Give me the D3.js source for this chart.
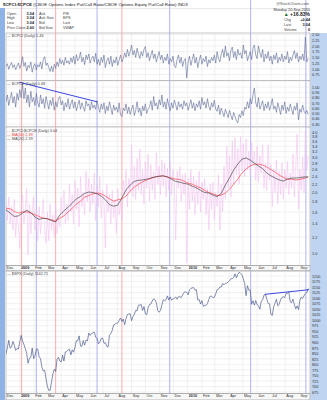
<!DOCTYPE html>
<html>
<head>
<meta charset="utf-8">
<script src="https://cdn.jsdelivr.net/npm/d3@7"></script>
<style>
body { margin: 0; background: #fff; }
svg { display: block; font-family: "Liberation Sans", Arial, sans-serif; }
</style>
</head>
<body>
<script>
// ---- data (one value every 3 calendar days from 2-Dec-2008 to 20-Sep-2010) ----
var startDate = new Date(2008, 11, 2);
var stepDays = 3;
var maStepDays = 9;

// $CPCI daily
var cpci = [
1.10,1.22,0.98,1.15,1.27,1.05,1.18,0.96,1.12,1.25,
1.02,1.20,1.53,1.10,1.28,0.90,1.15,1.05,1.30,0.85,
1.12,1.22,0.95,1.18,1.08,1.30,1.00,1.40,1.53,1.15,
1.25,1.05,0.88,1.12,0.87,1.20,1.02,1.30,1.10,1.45,
1.22,1.38,1.15,1.50,1.25,1.35,1.20,1.48,1.28,1.55,
1.20,1.62,1.35,1.45,1.73,1.30,1.50,1.18,1.60,1.40,
1.65,1.25,1.45,1.55,1.30,1.68,1.20,1.42,1.15,1.50,
1.28,1.60,1.05,1.35,1.48,1.20,1.55,1.10,1.40,1.25,
1.52,1.15,1.38,1.60,1.30,1.45,1.70,1.50,1.85,1.55,
1.75,2.04,1.60,1.80,1.50,1.90,1.65,1.45,1.75,1.55,
1.85,1.97,1.50,1.70,1.35,1.60,1.80,1.45,1.65,1.30,
1.55,1.75,1.40,1.60,1.25,1.50,1.35,1.65,1.20,1.45,
1.30,1.55,1.15,1.05,1.40,1.60,1.25,1.50,1.10,1.35,
1.45,0.60,1.30,1.55,1.15,1.40,1.65,1.25,1.50,1.05,
1.35,1.60,1.20,1.45,1.30,1.55,1.10,1.40,1.25,1.50,
1.35,1.60,1.25,1.75,1.45,1.30,1.65,1.85,1.50,2.00,
1.55,1.70,1.35,1.80,1.95,1.50,1.75,1.40,1.85,1.60,
1.70,1.45,2.04,1.65,1.80,1.35,1.55,1.75,1.40,1.90,
2.04,1.60,1.45,2.00,1.70,1.50,1.85,1.30,1.65,1.45,
1.75,1.35,1.55,1.20,1.60,1.40,1.70,1.25,1.50,1.35,
1.65,1.30,1.55,1.40,1.75,1.25,1.50,1.35,1.60,1.80,
1.45,1.70,1.30,1.55,1.40,1.65,1.35,2.39,1.30,1.46
];

// $CPCE daily
var cpce = [
0.72,0.85,0.65,0.78,0.90,0.70,0.82,0.62,0.88,0.75,
0.95,0.80,1.05,0.78,0.98,0.70,0.85,0.62,0.92,0.72,
0.80,0.65,0.88,0.70,0.62,0.85,0.68,0.78,0.60,0.82,
0.70,0.58,0.75,0.65,0.80,0.56,0.72,0.62,0.78,0.82,
0.66,0.74,0.55,0.70,0.62,0.78,0.58,0.68,0.76,0.60,
0.72,0.55,0.66,0.75,0.58,0.70,0.62,0.54,0.74,0.64,
0.68,0.56,0.72,0.60,0.66,0.58,0.74,0.62,0.52,0.68,
0.58,0.70,0.50,0.64,0.55,0.72,0.60,0.48,0.66,0.56,
0.62,0.52,0.70,0.47,0.44,0.60,0.55,0.68,0.50,0.62,
0.48,0.58,0.66,0.46,0.56,0.72,0.52,0.60,0.45,0.64,
0.55,0.68,0.50,0.58,0.62,0.74,0.56,0.82,0.64,0.70,
0.58,0.76,0.66,0.85,0.62,0.72,0.58,0.78,0.64,0.55,
0.70,0.60,0.75,0.66,0.56,0.72,0.62,0.68,0.58,0.74,
0.64,0.70,0.56,0.66,0.76,0.60,0.70,0.55,0.68,0.62,
0.74,0.58,0.80,0.66,0.72,0.60,0.78,0.64,0.56,0.70,
0.62,0.75,0.58,0.54,0.66,0.48,0.60,0.52,0.44,0.58,
0.50,0.42,0.56,0.46,0.38,0.52,0.44,0.36,0.32,0.48,
0.42,0.55,0.46,0.62,0.58,0.72,0.60,0.78,0.68,0.85,
0.98,0.70,0.62,0.80,0.58,0.66,0.74,0.55,0.68,0.60,
0.72,0.56,0.65,0.78,0.58,0.64,0.52,0.70,0.60,0.48,
0.66,0.56,0.72,0.50,0.62,0.54,0.68,0.58,0.48,0.64,
0.56,0.70,0.38,0.58,0.52,0.66,0.54,0.50,0.56,0.48
];

// $CPCI:$CPCE daily
var ratio = [
1.75,1.45,1.90,1.40,1.70,1.30,1.85,1.20,1.55,1.35,
1.05,1.70,1.95,1.40,1.62,2.10,0.98,1.75,1.25,1.60,
1.90,1.30,1.65,1.15,1.70,1.25,1.50,1.85,1.30,1.12,
1.60,1.15,1.75,1.30,1.55,1.20,1.75,1.25,1.50,1.35,
1.90,1.50,2.05,1.40,1.75,1.45,2.20,1.60,1.95,1.40,
2.30,1.65,2.10,1.35,2.40,1.70,2.00,1.55,2.55,1.80,
2.35,1.60,2.20,1.75,2.50,1.45,2.15,1.70,2.40,1.50,
2.05,1.85,1.06,2.20,1.60,1.95,1.40,2.05,1.50,1.85,
1.25,2.10,1.55,1.80,1.45,2.30,1.95,2.60,1.70,2.35,
2.00,3.45,1.90,2.70,1.85,2.95,2.05,3.30,1.95,2.60,
1.75,2.85,2.10,3.10,1.80,2.75,2.05,2.55,1.85,3.15,
2.20,2.70,1.95,2.90,2.15,2.80,1.90,2.65,2.05,2.85,
1.95,2.60,2.30,1.16,2.55,2.10,2.70,1.80,2.45,1.95,
2.50,0.89,2.35,1.65,2.60,1.80,2.40,1.55,2.30,1.75,
2.55,1.60,2.25,1.85,2.35,1.55,2.10,1.30,2.20,1.65,
2.25,1.45,2.00,1.70,2.45,1.30,2.20,1.60,2.70,1.85,
3.40,2.10,3.05,1.90,3.60,2.20,3.75,2.45,3.30,2.20,
3.80,2.55,3.50,2.40,3.70,2.60,3.20,2.45,3.55,2.75,
3.20,2.30,3.40,2.25,3.05,2.50,3.45,2.10,2.80,2.05,
3.45,2.30,2.75,1.70,2.60,2.00,2.90,1.75,2.55,1.95,
2.80,1.85,2.60,2.10,2.85,1.95,2.50,2.10,3.10,1.90,
2.70,3.90,1.65,2.60,2.05,3.00,2.00,4.05,2.60,3.04
];

// moving averages, one value every 9 days
var ma50 = [
1.67,1.66,1.61,1.58,1.60,1.60,1.58,1.55,1.52,1.49,
1.48,1.46,1.44,1.49,1.53,1.60,1.67,1.75,1.81,1.90,
1.93,1.97,1.99,1.97,1.92,1.86,1.81,1.84,1.86,1.92,
2.03,2.13,2.20,2.26,2.31,2.35,2.39,2.41,2.42,2.39,
2.36,2.33,2.32,2.28,2.22,2.20,2.15,2.11,2.05,2.00,
1.97,1.93,1.94,1.99,2.08,2.20,2.33,2.50,2.62,2.71,
2.76,2.77,2.74,2.68,2.60,2.53,2.44,2.38,2.33,2.33,
2.31,2.32,2.35,2.39
];
var ma20 = [
1.64,1.58,1.52,1.53,1.58,1.63,1.59,1.51,1.47,1.49,
1.48,1.45,1.43,1.55,1.62,1.69,1.77,1.86,1.91,1.98,
2.01,2.00,1.97,1.92,1.84,1.74,1.71,1.73,1.88,2.06,
2.18,2.27,2.30,2.31,2.33,2.36,2.39,2.41,2.42,2.39,
2.33,2.27,2.25,2.22,2.20,2.15,2.11,2.05,2.00,1.99,
1.94,1.91,1.98,2.18,2.36,2.59,2.77,2.93,2.97,2.90,
2.80,2.71,2.63,2.50,2.42,2.36,2.31,2.28,2.33,2.36,
2.36,2.37,2.39,2.39
];

// $SPX daily
var spx = [
848,876,909,873,879,904,887,863,872,870,
903,931,906,890,871,850,805,828,832,874,
826,838,869,870,835,826,788,770,773,735,
700,682,683,721,757,778,768,823,832,815,
811,842,815,856,858,865,869,843,866,855,
877,907,907,929,883,882,908,887,910,906,
942,931,940,942,946,923,918,893,900,918,
919,896,898,882,879,932,940,954,979,982,
986,987,999,1010,994,1005,980,1007,1026,1028,
1029,998,1016,1026,1044,1042,1068,1068,1071,1044,
1062,1029,1025,1057,1071,1073,1087,1097,1092,1079,
1043,1036,1045,1069,1093,1088,1093,1110,1091,1105,
1091,1096,1099,1105,1095,1106,1107,1102,1114,1126,
1128,1126,1115,1137,1144,1146,1148,1136,1138,1091,
1093,1073,1089,1063,1066,1068,1075,1094,1109,1108,
1102,1104,1119,1138,1140,1150,1150,1166,1160,1167,
1167,1173,1178,1188,1187,1194,1210,1192,1207,1217,
1212,1206,1187,1166,1111,1156,1136,1137,1072,1088,
1068,1089,1070,1065,1050,1087,1092,1114,1117,1095,
1076,1074,1027,1022,1060,1078,1095,1065,1071,1093,
1103,1106,1102,1121,1122,1127,1083,1079,1095,1071,
1051,1065,1048,1090,1105,1099,1110,1121,1125,1143
];

// tick labels on the right
var cpciTicks = [2.50, 2.25, 2.00, 1.75, 1.50, 1.25, 1.00, 0.75];
var cpceTicks = [1.00, 0.90, 0.80, 0.70, 0.60, 0.50, 0.40, 0.30];
var ratioTicks = [4.0, 3.8, 3.6, 3.4, 3.2, 3.0, 2.8, 2.6, 2.4, 2.2, 2.0, 1.8, 1.6, 1.4, 1.2, 1.0];
var spxTicks = [1200, 1175, 1150, 1125, 1100, 1075, 1050, 1025, 1000, 975, 950, 925, 900, 875, 850, 825, 800, 775, 750, 725, 700, 675];

// annotation lines drawn on the chart
var redMarks = ["2009-01-05", "2009-03-20", "2009-08-11"];
var blueMarks = ["2009-02-06", "2009-06-18", "2009-11-23", "2010-05-18", "2010-09-15"];
var cpceTrend = [["2008-12-31", 1.09], ["2009-06-18", 0.72]];
var spxTrend = [["2010-06-18", 1117], ["2010-09-22", 1138]];

// ---- chart ----
var W = 327, H = 400, L = 6, R = 310;
var parse = d3.timeParse("%Y-%m-%d");

var dates = d3.range(ratio.length).map(function(i) { return d3.timeDay.offset(startDate, i * stepDays); });
var maDates = d3.range(ma50.length).map(function(i) { return d3.timeDay.offset(startDate, i * maStepDays); });
var months = d3.timeMonth.range(new Date(2008, 11, 1), new Date(2010, 9, 1));

var x = d3.scaleTime().domain([startDate, new Date(2010, 8, 24)]).range([L, R]);

var svg = d3.select("body").append("svg").attr("width", W).attr("height", H);
svg.append("rect").attr("width", W).attr("height", H).attr("fill", "#fff");

// side strips
svg.append("rect").attr("x", 0).attr("y", 8).attr("width", 5).attr("height", H - 8).attr("fill", "#8fb3e4");
svg.append("rect").attr("x", R + 0.5).attr("y", 33).attr("width", W - R).attr("height", H - 33).attr("fill", "#bed4f1");
svg.append("line").attr("x1", 5).attr("x2", R).attr("y1", 8.5).attr("y2", 8.5).attr("stroke", "#d4d4d4").attr("stroke-width", 0.5);

var panels = [
  { top: 33, bottom: 80.8, y: d3.scaleLinear().domain([0.75, 2.5]).range([74.5, 34.5]), ticks: cpciTicks, fmt: d3.format(".2f") },
  { top: 80.8, bottom: 127, y: d3.scaleLinear().domain([0.3, 1.0]).range([124, 87]), ticks: cpceTicks, fmt: d3.format(".2f") },
  { top: 127, bottom: 265.5, y: d3.scaleLog().domain([1, 4]).range([253, 132]), ticks: ratioTicks, fmt: d3.format(".1f") },
  { top: 271, bottom: 393.5, y: d3.scaleLinear().domain([675, 1200]).range([392, 276]), ticks: spxTicks, fmt: d3.format("d") }
];

panels.forEach(function(p, i) {
  svg.append("rect").attr("x", L).attr("y", p.top).attr("width", R - L).attr("height", p.bottom - p.top)
     .attr("fill", "#fff").attr("stroke", "#a2a2a2").attr("stroke-width", 0.6);
  svg.append("g").selectAll("line").data(months.filter(function(d) { return x(d) > L && x(d) < R; }))
     .enter().append("line")
     .attr("x1", function(d) { return x(d); }).attr("x2", function(d) { return x(d); })
     .attr("y1", p.top).attr("y2", p.bottom)
     .attr("stroke", "#e3e3e3").attr("stroke-width", 0.5);
  svg.append("g").selectAll("line").data(p.ticks).enter().append("line")
     .attr("x1", L).attr("x2", R)
     .attr("y1", function(d) { return p.y(d); }).attr("y2", function(d) { return p.y(d); })
     .attr("stroke", "#e3e3e3").attr("stroke-width", 0.5);
  svg.append("clipPath").attr("id", "clip" + i).append("rect")
     .attr("x", L).attr("y", p.top).attr("width", R - L).attr("height", p.bottom - p.top);
  // labels on the right
  var ax = svg.append("g").attr("transform", "translate(" + R + ",0)")
     .call(d3.axisRight(p.y).tickValues(p.ticks).tickSize(0).tickPadding(2).tickFormat(p.fmt));
  ax.select(".domain").remove();
  ax.selectAll("text").attr("font-size", 3.8).attr("fill", "#333").attr("font-family", "Liberation Sans, Arial");
});

// vertical marker lines
svg.append("g").selectAll("line").data(redMarks.map(parse)).enter().append("line")
   .attr("x1", function(d) { return x(d); }).attr("x2", function(d) { return x(d); })
   .attr("y1", 0).attr("y2", H).attr("stroke", "#f5a3a3").attr("stroke-width", 0.9);
svg.append("g").selectAll("line").data(blueMarks.map(parse)).enter().append("line")
   .attr("x1", function(d) { return x(d); }).attr("x2", function(d) { return x(d); })
   .attr("y1", 0).attr("y2", H).attr("stroke", "#a9a9f3").attr("stroke-width", 0.9);

function drawLine(vals, ds, p, idx, color, width) {
  var line = d3.line().x(function(d, i) { return x(ds[i]); }).y(function(d) { return p.y(d); });
  svg.append("path").datum(vals).attr("clip-path", "url(#clip" + idx + ")")
     .attr("d", line).attr("fill", "none").attr("stroke", color).attr("stroke-width", width)
     .attr("stroke-linejoin", "round");
}

drawLine(cpci, dates, panels[0], 0, "#5d6a96", 0.6);
drawLine(cpce, dates, panels[1], 1, "#5d6a96", 0.6);
drawLine(ratio, dates, panels[2], 2, "#f4bdf0", 0.55);
drawLine(ma50, maDates, panels[2], 2, "#ff3a3a", 0.65);
drawLine(ma20, maDates, panels[2], 2, "#3a3a3a", 0.65);
drawLine(spx, dates, panels[3], 3, "#4e5c8e", 0.7);

// trend lines
function drawTrend(t, p) {
  svg.append("line")
     .attr("x1", x(parse(t[0][0]))).attr("y1", p.y(t[0][1]))
     .attr("x2", x(parse(t[1][0]))).attr("y2", p.y(t[1][1]))
     .attr("stroke", "#2430e0").attr("stroke-width", 0.9);
}
drawTrend(cpceTrend, panels[1]);
drawTrend(spxTrend, panels[3]);

// legends inside panels
function legend(yy, color, label, textColor) {
  var t = svg.append("text").attr("x", 7).attr("y", yy).attr("font-size", 3.8).attr("fill", textColor || "#444");
  t.append("tspan").attr("fill", color).text("\u2014 ");
  t.append("tspan").text(label);
}
legend(36.5, "#4e5c8e", "$CPCI (Daily) 1.46");
legend(84.5, "#4e5c8e", "$CPCE (Daily) 0.48");
legend(131.5, "#f2a6ee", "$CPCI:$CPCE (Daily) 3.04");
legend(135.5, "#ff3a3a", "MA(50) 2.39", "#e03030");
legend(139.5, "#3a3a3a", "MA(20) 2.39");
legend(274.8, "#4e5c8e", "$SPX (Daily) 1142.71");

// month axis strips
var monthFmt = function(d) { return d.getMonth() === 0 ? d3.timeFormat("%Y")(d) : d3.timeFormat("%b")(d); };
[[265.5, 270.8, 0.4], [393.5, 400, 1.2]].forEach(function(s) {
  svg.append("rect").attr("x", L).attr("y", s[0]).attr("width", R - L).attr("height", s[1] - s[0])
     .attr("fill", "#f7f7f7").attr("stroke", "#8d8d8d").attr("stroke-width", 0.6);
  var ax = svg.append("g").attr("transform", "translate(0," + s[0] + ")")
     .call(d3.axisBottom(x).tickValues(months).tickSize(0).tickPadding(s[2]).tickFormat(monthFmt));
  ax.select(".domain").remove();
  ax.selectAll("text").attr("text-anchor", "start").attr("dx", 0.6)
     .attr("font-size", 3.8).attr("fill", "#333").attr("font-family", "Liberation Sans, Arial")
     .attr("font-weight", function(d) { return d.getMonth() === 0 ? "bold" : "normal"; });
});

// header
var title = svg.append("text").attr("x", 3).attr("y", 5.5).attr("font-size", 4.4).attr("fill", "#222");
title.append("tspan").attr("font-weight", "bold").text("$CPCI:$CPCE");
title.append("tspan").text(" (CBOE Options Index Put/Call Ratio/CBOE Options Equity Put/Call Ratio) INDX");
svg.append("text").attr("x", R - 1).attr("y", 5).attr("text-anchor", "end").attr("font-size", 3.8).attr("fill", "#555").text("@StockCharts.com");

var rowsY = [14.5, 19.3, 24.1, 28.9];
var col1 = ["Open", "High", "Low", "Prev Close"];
var col1v = ["3.04", "3.04", "3.04", "2.60"];
var col2 = ["Ask", "Ask Size", "Bid", "Bid Size"];
var col3 = ["P/E", "EPS", "Last", "VWAP"];
rowsY.forEach(function(yy, i) {
  svg.append("text").attr("x", 7).attr("y", yy).attr("font-size", 3.8).attr("fill", "#444").text(col1[i]);
  svg.append("text").attr("x", 34).attr("y", yy).attr("text-anchor", "end").attr("font-size", 3.8).attr("font-weight", "bold").attr("fill", "#222").text(col1v[i]);
  svg.append("text").attr("x", 39).attr("y", yy).attr("font-size", 3.8).attr("fill", "#444").text(col2[i]);
  svg.append("text").attr("x", 63).attr("y", yy).attr("font-size", 3.8).attr("fill", "#444").text(col3[i]);
});

svg.append("text").attr("x", R).attr("y", 10.5).attr("text-anchor", "end").attr("font-size", 3.8).attr("fill", "#333").text("Monday 20-Sep-2010");
var chg = svg.append("text").attr("x", R).attr("y", 16).attr("text-anchor", "end").attr("font-size", 5).attr("font-weight", "bold").attr("fill", "#222");
chg.append("tspan").attr("fill", "#1a6a1a").text("\u25B2 ");
chg.append("tspan").text("+16.83%");
var rightRows = [["Chg", "+0.44", 21], ["Last", "3.04", 25.8], ["Volume", "0", 30.6]];
rightRows.forEach(function(r) {
  svg.append("text").attr("x", 284).attr("y", r[2]).attr("font-size", 3.8).attr("fill", "#444").text(r[0]);
  svg.append("text").attr("x", R).attr("y", r[2]).attr("text-anchor", "end").attr("font-size", 3.8).attr("font-weight", "bold").attr("fill", "#222").text(r[1]);
});
</script>
</body>
</html>
